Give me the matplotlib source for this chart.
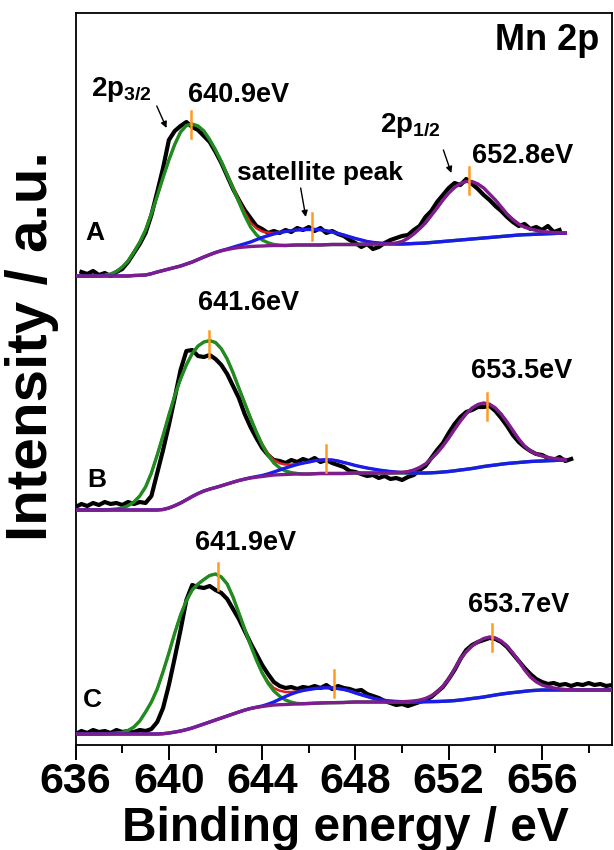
import matplotlib
matplotlib.use('Agg')
import matplotlib.pyplot as plt
import numpy as np

plt.rcParams['font.family'] = ['Liberation Sans', 'DejaVu Sans']
plt.rcParams['mathtext.fontset'] = 'custom'
plt.rcParams['mathtext.rm'] = 'Liberation Sans'
plt.rcParams['mathtext.bf'] = 'Liberation Sans:bold'

# measured spectra (binding energy grid, intensity in a.u. incl. stacking offset)
e_A = np.arange(636.25, 656.76, 0.25)
raw_A = [473, 471, 474, 470, 472, 469, 473, 476, 483, 492,
         501, 512, 530, 553, 577, 605, 614, 619, 623, 618,
         615, 609, 603, 593, 582, 569, 556, 545, 535, 527,
         519, 516, 512, 514, 512, 515, 513, 517, 515, 518,
         514, 517, 512, 514, 511, 509, 505, 502, 498, 501,
         496, 498, 502, 505, 507, 509, 510, 515, 519, 528,
         534, 543, 550, 557, 562, 560, 566, 561, 556, 550,
         545, 539, 534, 528, 523, 519, 521, 516, 518, 515,
         519, 513, 515]

e_B = np.arange(636.0, 657.26, 0.25)
raw_B = [238, 241, 239, 242, 240, 243, 241, 242, 240, 243,
         241, 243, 242, 249, 272, 295, 320, 347, 375, 394,
         395, 389, 388, 390, 386, 380, 371, 359, 347, 331,
         318, 307, 297, 290, 285, 284, 282, 285, 283, 286,
         284, 287, 283, 285, 282, 280, 278, 274, 273, 271,
         269, 270, 267, 269, 266, 267, 265, 268, 270, 275,
         279, 287, 295, 302, 312, 321, 328, 333, 335, 338,
         338, 339, 334, 327, 319, 310, 303, 298, 294, 291,
         290, 287, 285, 288, 284, 286]

e_C = np.arange(636.0, 659.01, 0.25)
raw_C = [11, 14, 12, 15, 13, 14, 12, 15, 13, 14,
         13, 15, 14, 16, 23, 37, 60, 87, 115, 145,
         160, 158, 157, 159, 155, 152, 146, 136, 126, 114,
         102, 91, 80, 71, 63, 59, 57, 58, 56, 58,
         57, 59, 57, 60, 56, 59, 57, 56, 54, 55,
         51, 49, 47, 44, 42, 40, 41, 39, 41, 43,
         45, 48, 53, 58, 66, 75, 86, 95, 100, 103,
         105, 107, 106, 103, 98, 91, 84, 77, 71, 66,
         63, 61, 62, 60, 61, 59, 61, 60, 62, 60,
         61, 59, 60]

# fitted components: Shirley background and the peaks above it
ef_AB = np.arange(636.0, 657.01, 0.25)
ef_C = np.arange(636.0, 659.01, 0.25)

bg_A = [469, 469, 469, 469, 469, 469, 469, 469, 469, 469,
        469.5, 469.7, 470, 471.3, 473, 474.5, 476, 477.5, 479, 481,
        483, 485.5, 488, 490.3, 492.5, 494.2, 495.5, 496.6, 497.5, 498,
        498.5, 498.8, 499, 499.3, 499.5, 499.5, 499.5, 499.8, 500, 500,
        500, 500, 500, 500.3, 500.5, 500.5, 500.5, 500.5, 500.5, 500.8,
        501, 501, 501, 501, 501, 501, 501, 501.2, 501.5, 501.7,
        502, 502.5, 503, 503.5, 504, 504.5, 505, 505.5, 506, 506.5,
        507, 507.5, 508, 508.5, 509, 509.5, 510, 510.3, 510.5, 510.8,
        511, 511.3, 511.5, 511.8, 512]
p32_A = [0] * 5 + [0.8, 2, 4.5, 9, 15, 23.5, 33, 45, 60, 76,
                   93, 109, 123, 134, 138.5, 138, 133.5, 126, 115, 102.5,
                   89, 74.5, 60, 45.5, 31.5, 19.5, 11.5, 6, 3, 1,
                   0.3] + [0] * 49
sat_A = [0] * 25 + [0.2, 0.5, 1.2, 2, 3.2, 4.5, 6.5, 8.5, 10, 11.5,
                    13, 14, 14.6, 15, 15.4, 15.5, 15.6, 15.2, 14, 12.5,
                    11, 9.5, 7.7, 6, 4.2, 2.5, 1.6, 1, 0.6, 0.3] + [0] * 30
p12_A = [0] * 54 + [0.3, 1, 2.5, 5.5, 9.5, 14.5, 20, 27, 34, 41.5,
                    48, 53, 56.5, 58, 57.5, 54.5, 50, 43.5, 37, 29.5,
                    22, 16, 11, 7.5, 5.5, 3.8, 2.5, 1.6, 1, 0.4,
                    0]

bg_B = [235, 235, 235, 235, 235, 235, 235, 235, 235, 235,
        235, 235, 235, 235, 235, 235.5, 237, 239.3, 242, 245.2,
        248.5, 251.5, 254, 255.9, 257.5, 259.2, 261, 262.8, 264.5, 265.9,
        267, 267.8, 268.5, 269.3, 270, 270.3, 270.5, 270.8, 271, 271,
        271, 271.3, 271.5, 271.5, 271.5, 271.5, 271.5, 271.8, 272, 272,
        272, 272, 272, 272, 272, 272, 272, 272, 272, 272,
        272, 272.2, 272.5, 273, 273.5, 274.2, 275, 275.7, 276.5, 277.5,
        278.5, 279.3, 280, 280.8, 281.5, 282, 282.5, 283, 283.5, 283.8,
        284, 284.3, 284.5, 284.8, 285]
p32_B = [0] * 5 + [0.2, 0.5, 1, 2, 4.3, 8, 14, 23, 37, 55,
                   74, 93, 110, 124, 135, 143, 147.5, 149, 148.5, 145,
                   137, 125, 109.5, 92.5, 76, 60, 45, 31.5, 20.5, 12,
                   6.8, 3.5, 1.6, 0.5] + [0] * 46
sat_B = [0] * 30 + [0.3, 0.6, 1, 1.8, 3, 4.7, 6.5, 8, 9.5, 10.9,
                    12, 13, 13.5, 13.7, 13.5, 12.5, 11, 9.3, 7.5, 6.2,
                    5, 4, 3, 2.2, 1.5, 0.9, 0.5, 0.2] + [0] * 27
p12_B = [0] * 55 + [0.2, 0.5, 1.4, 3, 5.5, 9, 14, 19.5, 26, 33.5,
                    41.5, 49, 55.5, 60.5, 63, 63.5, 61.5, 57, 50, 41.5,
                    32.5, 23.5, 16, 10.5, 7.3, 5, 3.3, 2, 1.1, 0.5]

bg_C = [11, 11, 11, 11, 11, 11, 11, 11, 11, 11,
        11, 11, 11, 11, 11, 11.3, 12, 12.9, 14, 15.4,
        17, 19, 21, 23, 25, 27, 29, 31, 33, 34.9,
        36.5, 37.6, 38.5, 39.3, 40, 40.3, 40.5, 40.8, 41, 41.3,
        41.5, 41.8, 42, 42.2, 42.3, 42.4, 42.5, 42.8, 43, 43,
        43, 43, 43, 43, 43, 43, 43, 43, 43, 43.1,
        43.3, 43.4, 43.5, 43.7, 44, 44.4, 45, 45.7, 46.5, 47.2,
        48, 49, 50, 50.9, 51.7, 52.4, 53, 53.7, 54.3, 54.7,
        55, 55, 55, 55, 55, 55, 55, 55, 55, 55,
        55, 55, 55]
p32_C = [0] * 5 + [0.2, 0.5, 0.9, 1.5, 3.5, 7, 13, 22, 32, 45,
                   62, 80, 99, 116, 129, 138, 142, 144.5, 146.5, 146,
                   141, 132, 117, 99, 81, 63.5, 47.5, 33.5, 22.5, 14,
                   8.5, 4.5, 2, 0.5] + [0] * 54
sat_C = [0] * 31 + [0.2, 0.5, 1.5, 3, 5.5, 8, 10.2, 12, 13.2, 14,
                    14.6, 15, 15, 14.7, 14, 13, 11.2, 9, 7.2, 5.5,
                    3.8, 2.5, 1.6, 1, 0.6, 0.3] + [0] * 36
p12_C = [0] * 56 + [0.3, 0.6, 1, 1.8, 3.2, 5.8, 9.5, 15, 22, 31.5,
                    41, 47.5, 52.5, 56, 58.5, 59, 57, 53, 47.3, 39.5,
                    31, 21.5, 13.7, 8.5, 5, 3.2, 2, 1.1, 0.5, 0.2] + [0] * 7

# peak position markers (energy, height) and their labels
mark_A_e = [640.95, 646.13, 652.86]
mark_A_h = [620.5, 518.5, 565]
mark_B_e = [641.74, 646.74, 653.66]
mark_B_h = [401, 286.5, 338.5]
mark_C_e = [642.09, 647.1, 653.87]
mark_C_h = [168.5, 61.5, 108]

peak_labels = ['640.9eV', '652.8eV', '641.6eV', '653.5eV', '641.9eV', '653.7eV']
peak_label_e = [640.8, 653.0, 641.23, 652.95, 641.1, 652.82]
peak_label_h = [643, 582, 435, 367, 195.5, 133]

BLACK = '#000000'
RED = '#e02020'
GREEN = '#1f8c1f'
BLUE = '#1c1ce8'
PURPLE = '#7d1d8e'
ORANGE = '#ff9a22'

fig = plt.figure(figsize=(6.14, 8.5), dpi=100)
ax = fig.add_axes([75.6 / 614, 1 - 745 / 850, (612 - 75.6) / 614, 732 / 850])


def draw(e, raw, ef, bg, p32, sat, p12, me, mh):
    bg = np.array(bg)
    p32 = np.array(p32)
    sat = np.array(sat)
    p12 = np.array(p12)
    ax.plot(e, raw, color=BLACK, lw=3.0, zorder=2)
    ax.plot(ef, bg + p32 + sat + p12, color=RED, lw=1.8, zorder=3)
    ax.plot(ef, bg + p32, color=GREEN, lw=2.4, zorder=4)
    ax.plot(ef, bg + sat, color=BLUE, lw=2.4, zorder=5)
    ax.plot(ef, bg + p12, color=PURPLE, lw=2.4, zorder=6)
    for x, y in zip(me, mh):
        ax.plot([x, x], [y - 13.5, y + 13.5], color=ORANGE, lw=1.8, zorder=7)


draw(e_A, raw_A, ef_AB, bg_A, p32_A, sat_A, p12_A, mark_A_e, mark_A_h)
draw(e_B, raw_B, ef_AB, bg_B, p32_B, sat_B, p12_B, mark_B_e, mark_B_h)
draw(e_C, raw_C, ef_C, bg_C, p32_C, sat_C, p12_C, mark_C_e, mark_C_h)

ax.set_xlim(636, 659)
ax.set_ylim(0, 732)
ax.set_yticks([])
ax.set_xticks(np.arange(636, 657, 4))
ax.set_xticks(np.arange(638, 659, 4), minor=True)
ax.tick_params(axis='x', which='major', direction='out', length=10.5, width=1.4, pad=2,
               labelsize=31)
ax.tick_params(axis='x', which='minor', direction='out', length=6, width=1.4)
for lab in ax.get_xticklabels():
    lab.set_fontweight('bold')
for sp in ax.spines.values():
    sp.set_linewidth(1.3)

tkw = dict(fontweight='bold', fontsize=19.5, color='k')
for s, x, y in zip(peak_labels, peak_label_e, peak_label_h):
    ax.text(x, y, s, ha='left', va='baseline', **tkw)

ax.text(658.47, 695, 'Mn 2p', ha='right', va='baseline', fontweight='bold', fontsize=26)
ax.text(636.4, 505, 'A', ha='left', va='baseline', fontweight='bold', fontsize=19)
ax.text(636.5, 258, 'B', ha='left', va='baseline', fontweight='bold', fontsize=19)
ax.text(636.3, 38, 'C', ha='left', va='baseline', fontweight='bold', fontsize=19)

akw = dict(arrowstyle='-|>', color='k', lw=1.0, mutation_scale=9, shrinkA=0, shrinkB=0)
ax.text(636.64, 649, r'2p$_{\mathbf{3/2}}$', ha='left', va='baseline', fontweight='bold', fontsize=20)
ax.annotate('', xy=(639.9, 617), xytext=(639.48, 639), arrowprops=akw)
ax.text(642.9, 565, 'satellite peak', ha='left', va='baseline', fontweight='bold', fontsize=19)
ax.annotate('', xy=(645.87, 528), xytext=(645.65, 557), arrowprops=akw)
ax.text(649.06, 613, r'2p$_{\mathbf{1/2}}$', ha='left', va='baseline', fontweight='bold', fontsize=20)
ax.annotate('', xy=(652.11, 572), xytext=(651.77, 595), arrowprops=akw)

fig.text(345 / 614, 1 - 841 / 850, 'Binding energy / eV', ha='center', va='baseline',
         fontweight='bold', fontsize=34.5)
fig.text(32 / 614, 1 - 346 / 850, 'Intensity / a.u.', rotation=90, ha='center', va='center',
         fontweight='bold', fontsize=42)

fig.savefig('out.png', dpi=100)
